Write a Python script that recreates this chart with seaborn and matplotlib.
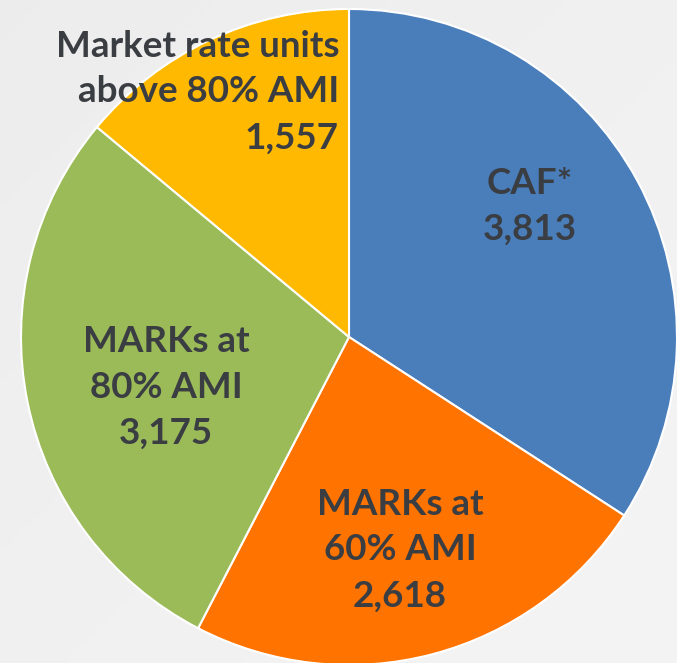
import matplotlib
matplotlib.use("Agg")
import numpy as np
import matplotlib.pyplot as plt
import seaborn as sns

labels = ["CAF*", "MARKs at\n60% AMI", "MARKs at\n80% AMI", "Market rate units\nabove 80% AMI"]
units = [3813, 2618, 3175, 1557]
colors = ["#4A7EBB", "#FF7300", "#9BBB59", "#FFB900"]

sns.set_style("white")
plt.rcParams["font.family"] = ["Lato", "DejaVu Sans"]

W, H = 677, 663
fig = plt.figure(figsize=(W / 100, H / 100), dpi=100)
fig.patch.set_facecolor("#EFEEEC")
ax = fig.add_axes([0, 0, 1, 1])

# soft grey backdrop, slightly lighter toward the top right
gy, gx = np.mgrid[0:1:100j, 0:1:100j]
shade = 0.925 + 0.03 * (gx * 0.5 + gy * 0.5)
ax.imshow(shade, cmap="gray", vmin=0, vmax=1, extent=(0, W, 0, H), aspect="auto", zorder=0)

cx, cy, r = 349, H - 337, 328
wedges, _ = ax.pie(units, colors=colors, startangle=90, counterclock=False,
                   center=(cx, cy), radius=r,
                   wedgeprops=dict(edgecolor="white", linewidth=1.5, zorder=2))

ax.set_xlim(0, W)
ax.set_ylim(0, H)
ax.set_aspect("auto")
ax.axis("off")

txt = dict(color="#3A3D42", fontsize=26.5, fontweight="bold", linespacing=1.48, zorder=3)
# label anchor positions in pixel space (x, y from top), alignment
spots = [(530, 206, "center"), (400, 550, "center"), (166, 387, "center"), (339, 92, "right")]
for lab, val, (x, y, ha) in zip(labels, units, spots):
    ax.text(x, H - y, f"{lab}\n{val:,}", ha=ha, va="center", multialignment=ha, **txt)

fig.savefig("out.png", dpi=100, facecolor=fig.get_facecolor())
